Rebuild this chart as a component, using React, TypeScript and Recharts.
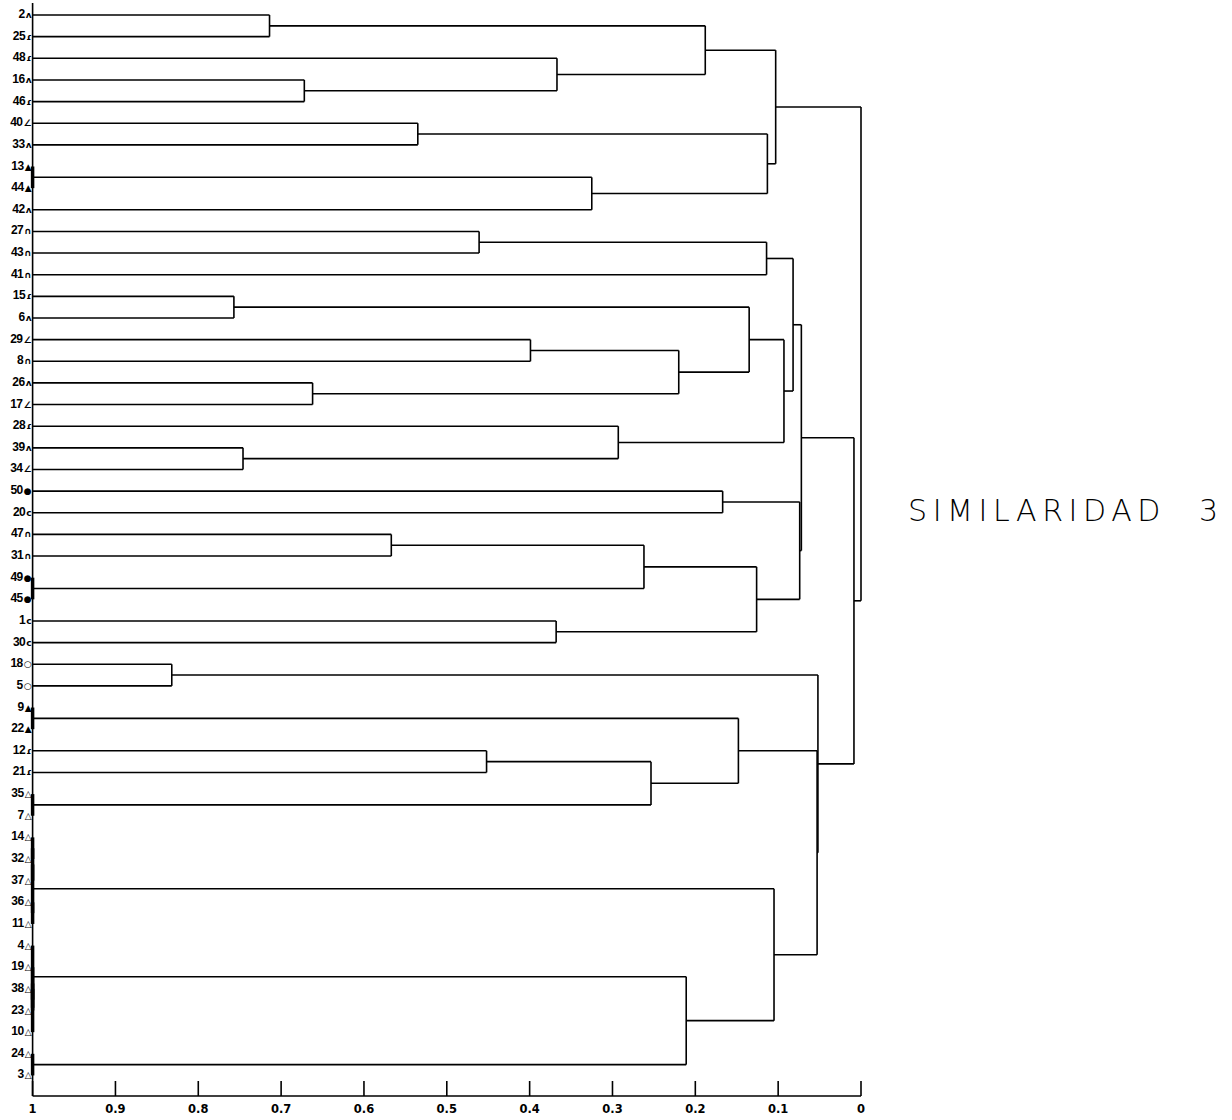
import React from "react";
import { ComposedChart, XAxis, YAxis, ReferenceLine, Scatter } from "recharts";

// Leaves, top to bottom
const leafNames = [
  "2", "25", "48", "16", "46", "40", "33", "13", "44", "42",
  "27", "43", "41", "15", "6", "29", "8", "26", "17", "28",
  "39", "34", "50", "20", "47", "31", "49", "45", "1", "30",
  "18", "5", "9", "22", "12", "21", "35", "7", "14", "32",
  "37", "36", "11", "4", "19", "38", "23", "10", "24", "3",
];
const leafMarks = [
  "ʌ", "ɾ", "ɾ", "ʌ", "ɾ", "∠", "ʌ", "▲", "▲", "ʌ",
  "∩", "∩", "∩", "ɾ", "ʌ", "∠", "∩", "ʌ", "∠", "ɾ",
  "ʌ", "∠", "●", "c", "∩", "∩", "●", "●", "c", "c",
  "○", "○", "▲", "▲", "ɾ", "ɾ", "△", "△", "△", "△",
  "△", "△", "△", "△", "△", "△", "△", "△", "△", "△",
];

// Agglomeration steps: "#k" refers to the cluster created by step k
const mergePairs: [string, string][] = [
  ["13", "44"], ["49", "45"], ["9", "22"], ["35", "7"], ["14", "32"],
  ["#4", "37"], ["36", "11"], ["#5", "#6"], ["38", "23"], ["19", "#8"],
  ["#9", "10"], ["4", "#10"], ["24", "3"], ["18", "5"], ["15", "6"],
  ["39", "34"], ["2", "25"], ["16", "46"], ["26", "17"], ["47", "31"],
  ["40", "33"], ["27", "43"], ["12", "21"], ["29", "8"], ["48", "#17"],
  ["1", "30"], ["#0", "42"], ["28", "#15"], ["#19", "#1"], ["#22", "#3"],
  ["#23", "#18"], ["#11", "#12"], ["#16", "#24"], ["50", "20"], ["#2", "#29"],
  ["#14", "#30"], ["#28", "#25"], ["#20", "#26"], ["#21", "41"], ["#7", "#31"],
  ["#32", "#37"], ["#35", "#27"], ["#38", "#41"], ["#33", "#36"], ["#42", "#43"],
  ["#34", "#39"], ["#13", "#45"], ["#44", "#46"], ["#40", "#47"],
];
const mergeSimilarity = [
  1, 1, 1, 1, 1,
  1, 1, 1, 1, 1,
  1, 1, 1, 0.832, 0.757,
  0.746, 0.714, 0.672, 0.662, 0.567,
  0.535, 0.461, 0.452, 0.399, 0.367,
  0.368, 0.325, 0.293, 0.262, 0.2535,
  0.22, 0.211, 0.188, 0.167, 0.148,
  0.135, 0.126, 0.113, 0.114, 0.105,
  0.103, 0.093, 0.082, 0.074, 0.072,
  0.053, 0.052, 0.0085, 0,
];

const xTicks = [1, 0.9, 0.8, 0.7, 0.6, 0.5, 0.4, 0.3, 0.2, 0.1, 0];
const xTickLabels = ["1", "0.9", "0.8", "0.7", "0.6", "0.5", "0.4", "0.3", "0.2", "0.1", "0"];
const titleText = "SIMILARIDAD";
const titleNumber = "3";

// ---- build segments from the data ----
type NodeInfo = { y: number; sim: number };
const nodes: Record<string, NodeInfo> = {};
leafNames.forEach((n, i) => {
  nodes[n] = { y: i + 1, sim: 1 };
});
const parentSim: Record<string, number> = {};
const vSegs: { x: number; y1: number; y2: number; thick: boolean }[] = [];
mergePairs.forEach(([a, b], k) => {
  const s = mergeSimilarity[k];
  const na = nodes[a];
  const nb = nodes[b];
  nodes["#" + k] = { y: (na.y + nb.y) / 2, sim: s };
  parentSim[a] = s;
  parentSim[b] = s;
  vSegs.push({ x: s, y1: na.y, y2: nb.y, thick: s === 1 });
});
const hSegs = Object.keys(nodes)
  .filter((k) => parentSim[k] !== undefined && parentSim[k] < nodes[k].sim)
  .map((k) => ({ x1: nodes[k].sim, x2: parentSim[k], y: nodes[k].y }));

const leafPoints = leafNames.map((_, i) => ({ x: 1, y: i + 1 }));
const leafTicks = leafNames.map((_, i) => i + 1);

const LeafTick = (props: any) => {
  const { x, y, payload } = props;
  const i = payload.value - 1;
  return (
    <text
      x={x}
      y={y + 3}
      textAnchor="end"
      fontFamily="'Liberation Sans', Arial, sans-serif"
      fontWeight={700}
      fontSize={12}
      fill="#000"
      letterSpacing={-0.5}
    >
      <tspan>{leafNames[i]}</tspan>
      <tspan fontSize={9} fontFamily="'DejaVu Sans', sans-serif" dx={1}>
        {leafMarks[i]}
      </tspan>
    </text>
  );
};

const XTick = (props: any) => {
  const { x, y, payload } = props;
  const idx = xTicks.indexOf(payload.value);
  return (
    <text
      x={x}
      y={y}
      dy={8.5}
      textAnchor="middle"
      fontFamily="'DejaVu Sans', sans-serif"
      fontWeight={700}
      fontSize={11.5}
      fill="#000"
    >
      {idx >= 0 ? xTickLabels[idx] : payload.value}
    </text>
  );
};

export default function App() {
  return (
    <div style={{ position: "absolute", left: 0, top: 0, width: 1232, height: 1120, background: "#fff" }}>
      <ComposedChart
        width={1232}
        height={1120}
        margin={{ top: 3, right: 371, bottom: 0, left: 0 }}
        data={leafPoints}
      >
        <XAxis
          type="number"
          dataKey="x"
          domain={[0, 1]}
          reversed
          allowDataOverflow
          ticks={xTicks}
          interval={0}
          height={24}
          tickSize={-15}
          tickMargin={23}
          axisLine={{ stroke: "#000", strokeWidth: 1.6 }}
          tickLine={{ stroke: "#000", strokeWidth: 1.6 }}
          tick={<XTick />}
        />
        <YAxis
          type="number"
          dataKey="y"
          domain={[0.445, 50.95]}
          reversed
          allowDataOverflow
          ticks={leafTicks}
          interval={0}
          width={32.6}
          axisLine={false}
          tickLine={false}
          tickSize={0}
          tickMargin={1.5}
          tick={<LeafTick />}
        />
        <ReferenceLine x={1} stroke="#000" strokeWidth={1.6} />
        {hSegs.map((s, i) => (
          <ReferenceLine
            key={"h" + i}
            segment={[
              { x: s.x1, y: s.y },
              { x: s.x2, y: s.y },
            ]}
            stroke="#000"
            strokeWidth={1.6}
            ifOverflow="visible"
          />
        ))}
        {vSegs.map((s, i) => (
          <ReferenceLine
            key={"v" + i}
            segment={[
              { x: s.x, y: s.y1 },
              { x: s.x, y: s.y2 },
            ]}
            stroke="#000"
            strokeWidth={s.thick ? 3.5 : 1.6}
            ifOverflow="visible"
          />
        ))}
        <Scatter data={leafPoints} fill="none" shape={() => <g />} isAnimationActive={false} legendType="none" />
      </ComposedChart>
      <svg
        width={1232}
        height={1120}
        style={{ position: "absolute", left: 0, top: 0, pointerEvents: "none" }}
      >
        <text
          x={908}
          y={521}
          fontFamily="'DejaVu Sans', sans-serif"
          fontWeight={300}
          fontSize={30}
          letterSpacing={5.6}
          fill="#000"
        >
          {titleText}
        </text>
        <text
          x={1199}
          y={521}
          fontFamily="'DejaVu Sans', sans-serif"
          fontWeight={300}
          fontSize={30}
          fill="#000"
        >
          {titleNumber}
        </text>
      </svg>
    </div>
  );
}
